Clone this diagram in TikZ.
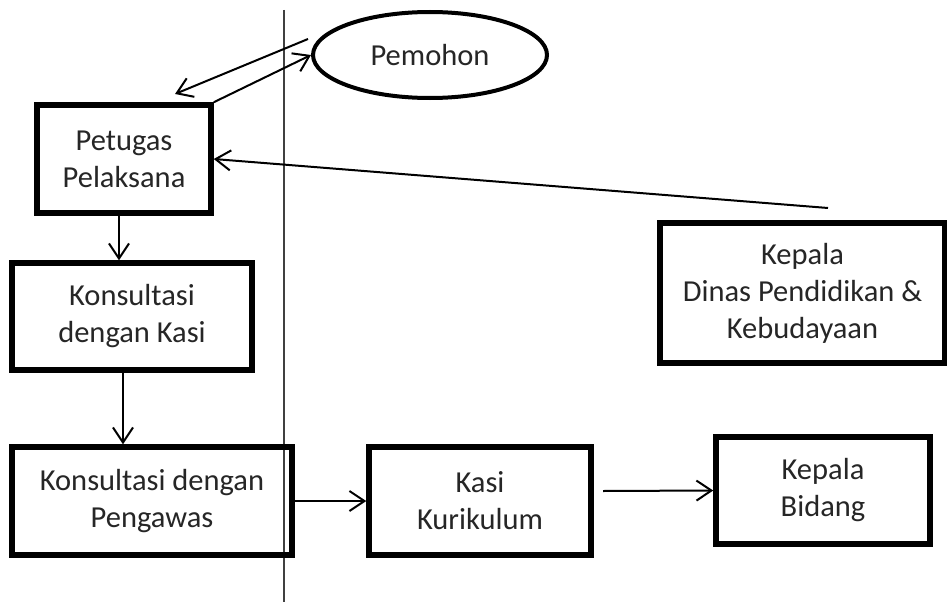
\documentclass[tikz,border=0pt]{standalone}
\usepackage{fontspec}
\setmainfont{Carlito}
\usetikzlibrary{arrows.meta,shapes.geometric}
\begin{document}
\begin{tikzpicture}[x=1pt,y=-1pt,
  boxnode/.style={draw,line width=5.5pt,rectangle,inner sep=0pt,align=center,
    text=black!85,font=\fontsize{30.5}{37}\selectfont},
  arr/.style={line width=2pt,-{Straight Barb[length=15pt,width=20pt,line width=2pt]}},
  txt/.style={text=black!85,font=\fontsize{30.5}{37}\selectfont}]
\useasboundingbox (0,0) rectangle (947,602);
\fill[white] (0,0) rectangle (947,602);
% divider
\draw[line width=1.2pt,black!75] (284,10) -- (284,602);
% nodes
\node[draw,ellipse,line width=4pt,minimum width=234pt,minimum height=86pt,inner sep=0pt,txt] (pem) at (430,55) {Pemohon};
\node[boxnode,minimum width=174pt,minimum height=108pt] (pet) at (124,159) {Petugas\\Pelaksana};
\node[boxnode,minimum width=240pt,minimum height=107pt] (kasi) at (132,316.5) {Konsultasi\\dengan Kasi};
\node[boxnode,minimum width=280pt,minimum height=108pt] (peng) at (152,501) {Konsultasi dengan\\Pengawas};
\node[boxnode,minimum width=222pt,minimum height=108pt] (kk) at (480,501) {Kasi\\Kurikulum};
\node[boxnode,minimum width=214pt,minimum height=107pt] (kb) at (823,490.5) {Kepala\\Bidang};
\node[boxnode,minimum width=285pt,minimum height=140pt] (kd) at (802.5,293) {Kepala\\Dinas Pendidikan \&\\Kebudayaan};
% free ends
\coordinate (c1) at (308,39);
\coordinate (c1e) at (175,94);
\coordinate (c2) at (828,208);
\coordinate (c3) at (603,491);
% connectors
\draw[arr] (c1) -- (c1e);
\draw[arr] (pet.north east) -- (pem.west);
\draw[arr] (c2) -- (pet.east);
\draw[arr] ([xshift=-5pt]pet.south) -- ([xshift=-13pt]kasi.north);
\draw[arr] ([xshift=-9pt]kasi.south) -- ([xshift=-29pt]peng.north);
\draw[arr] (peng.east) -- (kk.west);
\draw[arr] (c3) -- (kb.west);
\end{tikzpicture}
\end{document}
